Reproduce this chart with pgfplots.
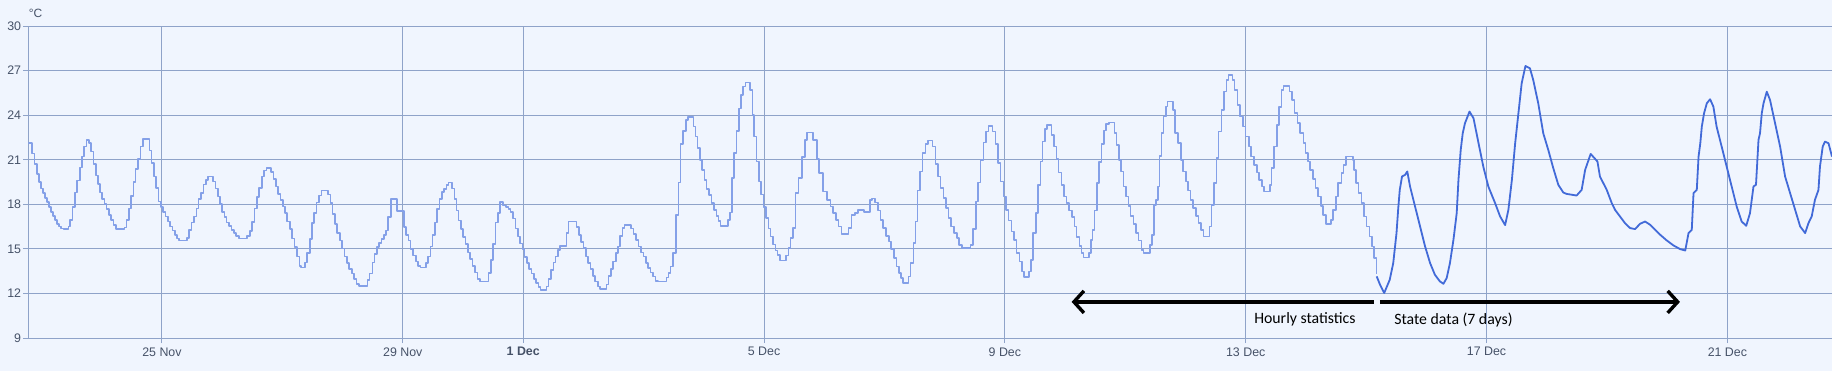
\documentclass[border=0pt]{standalone}
\usepackage{fontspec}
\setmainfont{Liberation Sans}
\newfontfamily\calibri{Carlito}
\usepackage{pgfplots}
\pgfplotsset{compat=1.18}
\usetikzlibrary{arrows.meta}
\definecolor{bg}{RGB}{240,245,254}
\definecolor{gridc}{RGB}{143,163,201}
\definecolor{labc}{RGB}{70,82,104}
\definecolor{hourc}{RGB}{132,160,232}
\definecolor{statec}{RGB}{66,106,216}
\begin{document}
\begin{tikzpicture}
\useasboundingbox (-14.25pt,-16.5pt) rectangle (901.75pt,169pt);
\fill[bg] (-14.25pt,-16.5pt) rectangle (901.75pt,169pt);
\begin{axis}[
  name=ax,
  scale only axis, width=901.75pt, height=156pt,
  xmin=-197.2, xmax=521.7, ymin=9, ymax=30,
  axis x line*=bottom, axis y line*=left,
  xtick={-144,-48,0,96,192,288,384,480},
  xticklabels={25 Nov,29 Nov,\textbf{1 Dec},5 Dec,9 Dec,13 Dec,17 Dec,21 Dec},
  ytick={9,12,15,18,21,24,27,30},
  grid=major, major grid style={gridc, line width=0.5pt},
  axis line style={gridc, line width=0.5pt, -},
  tick style={gridc, line width=0.5pt},
  tick align=outside, major tick length=2.5pt,
  /pgf/number format/assume math mode=true,
  tick label style={font=\fontsize{6.2}{7}\selectfont, text=labc},
  yticklabel style={inner sep=1pt},
  xticklabel style={inner sep=1pt, yshift=-1pt},
  clip=true,
]
\addplot[const plot, hourc, line width=0.8pt, line join=round, mark=none] table {
-197.2 22.11
-195.7 21.42
-194.8 20.70
-193.9 20.05
-193.0 19.49
-192.2 19.06
-191.4 18.75
-190.6 18.44
-189.8 18.14
-189.0 17.81
-188.2 17.49
-187.4 17.23
-186.6 16.96
-185.8 16.69
-185.0 16.51
-184.2 16.37
-183.3 16.33
-181.3 16.51
-180.7 16.96
-179.7 17.81
-178.6 18.79
-177.8 19.60
-176.7 20.48
-175.9 21.21
-175.0 21.89
-174.1 22.34
-173.0 22.11
-172.2 21.55
-171.3 20.72
-170.4 19.94
-169.4 19.35
-168.6 18.79
-167.8 18.37
-166.9 18.01
-166.1 17.67
-165.2 17.29
-164.3 16.96
-163.3 16.62
-162.4 16.33
-159.0 16.45
-158.1 16.96
-157.2 17.72
-156.3 18.57
-155.4 19.51
-154.5 20.36
-153.5 21.04
-152.6 21.89
-151.6 22.38
-149.0 21.62
-148.1 20.77
-147.2 19.87
-146.3 19.11
-145.4 18.19
-144.4 17.81
-143.5 17.47
-142.6 17.18
-141.7 16.84
-140.8 16.51
-139.8 16.24
-138.9 15.93
-138.0 15.70
-137.1 15.57
-134.0 15.72
-133.2 16.28
-132.3 16.78
-131.3 17.18
-130.3 17.72
-129.4 18.35
-128.5 18.75
-127.4 19.33
-126.5 19.65
-125.6 19.87
-123.6 19.53
-122.7 19.06
-121.7 18.53
-120.9 18.03
-120.0 17.49
-119.1 17.14
-118.2 16.78
-117.3 16.53
-116.3 16.28
-115.4 16.06
-114.4 15.88
-113.4 15.70
-110.0 15.88
-109.0 16.22
-108.2 16.82
-107.1 17.72
-106.2 18.48
-105.3 19.09
-104.2 19.87
-103.3 20.27
-102.3 20.43
-100.6 20.18
-99.6 19.69
-98.6 19.20
-97.7 18.68
-96.7 18.30
-95.8 17.85
-94.9 17.40
-94.1 16.84
-93.0 16.33
-92.1 15.70
-91.2 15.12
-90.1 14.49
-89.2 13.86
-88.6 13.75
-86.9 14.09
-86.1 14.72
-85.1 15.66
-84.3 16.73
-83.3 17.40
-82.4 18.12
-81.5 18.59
-80.4 18.93
-77.7 18.66
-76.8 18.08
-76.0 17.34
-75.1 16.69
-74.2 16.06
-73.1 15.57
-72.2 15.03
-71.3 14.49
-70.3 14.04
-69.4 13.64
-68.3 13.33
-67.4 12.97
-66.4 12.65
-65.5 12.52
-62.0 12.92
-61.2 13.33
-60.1 14.09
-59.3 14.67
-58.4 15.12
-57.5 15.39
-56.5 15.66
-55.6 15.95
-54.6 16.24
-54.0 17.14
-52.7 18.37
-50.2 17.55
-47.6 16.49
-46.8 15.93
-45.8 15.55
-44.9 14.98
-43.9 14.54
-42.8 14.16
-41.9 13.86
-40.9 13.75
-38.8 14.04
-37.9 14.49
-36.9 15.16
-36.1 15.95
-35.2 16.78
-34.3 17.70
-33.4 18.37
-32.4 18.82
-31.5 19.04
-30.6 19.31
-29.8 19.47
-28.3 19.06
-27.4 18.35
-26.6 17.58
-25.8 16.91
-24.9 16.33
-23.9 15.79
-23.0 15.32
-22.1 14.76
-21.1 14.31
-20.2 13.86
-19.3 13.42
-18.3 12.97
-17.3 12.79
-13.8 13.37
-12.9 14.27
-12.0 15.32
-11.0 16.78
-10.1 17.40
-9.3 18.14
-8.0 17.92
-6.9 17.83
-5.8 17.70
-5.0 17.49
-4.0 17.05
-3.1 16.37
-2.1 15.84
-1.3 15.35
-0.3 14.98
0.5 14.45
1.5 14.04
2.4 13.64
3.3 13.33
4.3 12.97
5.2 12.70
6.1 12.43
6.9 12.25
9.3 12.47
10.1 12.97
11.0 13.59
12.0 14.09
12.9 14.49
13.8 14.94
14.6 15.21
17.3 16.06
18.1 16.84
21.3 16.46
22.3 15.93
23.1 15.46
24.1 15.05
25.0 14.49
25.9 14.04
26.8 13.64
27.8 13.19
28.7 12.81
29.8 12.47
30.6 12.29
33.2 12.59
34.0 13.19
34.9 13.64
35.9 14.16
36.9 14.72
37.7 15.16
38.5 15.88
39.6 16.42
40.4 16.60
42.9 16.37
43.9 16.02
44.9 15.61
46.0 15.16
47.0 14.76
48.0 14.49
48.9 14.04
49.8 13.73
50.8 13.42
51.8 13.15
52.8 12.83
53.7 12.79
57.1 13.08
57.9 13.37
58.7 13.82
59.8 14.72
60.9 17.29
61.9 19.47
62.7 22.04
63.8 22.94
64.8 23.68
65.8 23.86
67.8 23.23
68.6 22.56
69.5 21.77
70.4 20.99
71.2 20.32
72.2 19.65
73.1 19.04
74.1 18.61
75.1 18.08
76.0 17.63
77.1 17.23
77.9 16.89
78.7 16.55
81.6 16.96
82.4 17.45
83.2 19.76
84.1 21.44
85.0 22.94
86.1 24.44
86.9 25.36
87.7 25.92
88.6 26.19
90.3 25.70
91.4 24.02
92.1 22.56
93.0 20.88
93.9 19.53
94.9 18.66
95.8 17.83
96.7 17.07
97.7 16.37
98.6 15.84
99.5 15.30
100.5 14.89
101.4 14.58
102.3 14.22
104.8 14.54
105.7 15.05
106.5 15.72
107.5 16.40
108.6 18.75
109.7 19.76
111.1 21.20
112.3 22.33
113.1 22.82
115.6 22.34
117.0 21.04
118.0 20.09
119.6 18.86
121.2 18.30
122.5 17.85
123.6 17.40
124.7 16.96
125.7 16.51
126.8 16.00
129.6 16.40
130.9 17.29
132.2 17.40
133.5 17.63
135.8 17.47
138.2 18.30
139.0 18.39
140.3 18.12
141.4 17.58
142.4 16.96
143.5 16.40
144.5 15.88
145.7 15.50
146.7 14.98
147.8 14.38
148.8 13.82
149.9 13.37
150.7 13.03
151.5 12.70
153.6 13.15
154.4 14.04
155.5 15.39
156.3 16.84
157.1 18.93
158.2 20.21
159.2 21.44
160.3 22.07
161.3 22.29
163.2 21.89
164.3 20.72
165.3 19.87
166.4 19.11
167.5 18.44
168.5 17.77
169.6 17.09
170.6 16.51
171.7 16.06
172.8 15.72
173.8 15.28
174.9 15.05
178.3 15.28
179.4 16.33
180.5 18.19
181.3 19.47
182.3 20.99
183.4 22.16
184.5 22.90
185.5 23.28
187.1 22.90
188.2 22.07
189.3 20.77
190.3 19.53
191.4 18.53
192.5 17.63
193.5 16.91
194.6 16.17
195.7 15.61
196.7 14.72
197.8 14.16
198.8 13.48
199.6 13.10
201.7 13.48
202.5 14.27
203.3 16.06
204.4 17.40
205.2 19.31
206.2 20.88
207.0 22.22
208.1 23.05
208.9 23.34
210.5 22.67
211.6 21.89
212.6 21.04
213.4 20.14
214.5 19.31
215.5 18.53
216.6 18.08
217.6 17.58
218.7 17.14
219.8 16.51
220.6 15.79
221.7 15.21
222.5 14.72
223.3 14.42
225.6 14.72
226.4 15.61
226.9 16.28
227.7 17.58
228.6 19.42
229.4 20.83
230.5 22.07
231.5 22.96
232.3 23.41
233.4 23.50
235.7 22.78
236.5 21.98
237.6 20.99
238.4 20.21
239.2 19.20
240.3 18.53
241.3 17.90
242.1 17.23
243.2 16.69
244.3 16.06
245.3 15.57
246.4 14.94
247.2 14.72
249.9 15.28
250.7 15.95
251.5 17.97
252.3 18.30
253.1 19.20
253.6 21.26
254.4 22.78
255.2 23.90
256.1 24.58
256.8 24.91
258.9 24.35
259.9 22.78
261.0 22.11
262.1 20.99
263.1 20.21
264.2 19.53
265.0 18.93
266.0 18.30
267.1 17.74
268.2 17.23
269.2 16.73
270.2 16.28
271.1 15.84
273.5 16.51
274.3 17.97
275.4 19.42
276.4 21.10
277.2 22.90
278.3 24.35
279.3 25.58
280.4 26.37
281.2 26.71
282.8 26.37
283.6 25.70
284.7 24.69
285.7 23.90
286.8 23.23
287.9 22.56
289.2 21.89
290.2 21.21
291.3 20.65
292.4 20.14
293.4 19.65
294.5 19.20
295.3 18.86
297.7 19.31
298.2 20.43
299.3 21.89
300.4 23.34
301.2 24.53
302.2 25.70
303.0 25.97
305.4 25.58
306.4 25.02
307.5 24.13
308.6 23.46
309.7 22.78
311.0 22.11
311.8 21.44
312.8 20.88
313.7 20.32
314.7 19.69
315.8 19.09
316.8 18.53
317.9 17.90
318.9 17.29
320.0 16.69
322.1 16.96
322.9 17.63
323.9 18.53
324.8 19.42
326.1 20.09
326.9 20.65
328.0 21.21
330.7 20.99
331.2 20.32
332.0 19.42
333.0 18.75
334.1 18.08
335.2 17.18
336.2 16.51
337.3 15.84
338.3 15.16
339.1 14.38
340.2 13.30
};
\addplot[statec, line width=0.9pt, line join=round, mark=none] table {
340.2 13.15
341.5 12.60
343.2 12.03
345.4 12.92
346.8 14.04
348.1 16.06
348.8 17.74
349.4 18.97
350.3 19.87
351.5 19.98
352.4 20.21
353.5 19.20
355.5 17.85
357.5 16.51
359.5 15.16
361.5 14.04
363.4 13.26
365.4 12.81
366.8 12.65
368.1 13.03
369.4 14.04
370.8 15.61
372.1 17.40
372.8 19.65
373.7 21.66
374.5 22.78
375.4 23.46
377.2 24.24
378.8 23.79
380.8 22.11
382.7 20.54
384.7 19.20
387.4 18.08
389.4 17.18
391.4 16.60
392.7 17.63
394.1 19.65
395.4 22.11
396.7 24.13
398.0 26.15
399.5 27.31
401.3 27.15
402.6 26.37
404.6 24.80
406.6 22.78
408.6 21.66
410.6 20.43
412.6 19.31
414.6 18.79
415.9 18.70
419.9 18.59
421.9 18.97
423.3 20.32
425.5 21.39
428.2 20.88
429.2 19.87
431.9 18.97
433.9 18.08
435.2 17.63
437.2 17.18
439.2 16.73
441.2 16.40
443.2 16.33
445.2 16.69
447.2 16.84
449.2 16.62
451.2 16.28
453.2 15.95
455.8 15.57
458.5 15.23
461.2 14.98
463.2 14.89
464.5 16.06
465.8 16.28
466.5 18.75
467.8 18.97
468.5 21.21
469.2 22.11
469.8 23.23
470.7 24.13
471.8 24.80
473.1 25.07
474.4 24.58
475.7 23.23
477.7 21.89
479.7 20.54
481.7 19.20
483.7 17.85
485.7 16.84
487.5 16.55
489.0 17.40
490.4 19.20
491.4 19.31
492.4 22.34
493.0 22.78
493.7 24.13
494.4 24.80
495.7 25.58
497.0 25.02
499.0 23.46
501.0 21.89
503.0 19.87
505.0 18.75
507.0 17.63
509.0 16.51
511.0 16.06
512.3 16.73
513.6 17.18
514.9 18.30
516.3 18.97
516.9 20.54
518.0 21.89
518.9 22.22
520.3 22.11
521.7 21.21
};
\draw[black, line width=1.7pt, {Straight Barb[length=5pt,width=11pt]}-] (axis cs:218.6,11.43) -- (axis cs:339.1,11.43);
\draw[black, line width=1.7pt, -{Straight Barb[length=5pt,width=11pt]}] (axis cs:341.5,11.43) -- (axis cs:461.1,11.43);
\node[font=\calibri\fontsize{7.9}{9}\selectfont, inner sep=0pt] at (axis cs:311.6,10.28) {Hourly statistics};
\node[font=\calibri\fontsize{7.9}{9}\selectfont, inner sep=0pt] at (axis cs:370.8,10.2) {State data (7 days)};
\end{axis}
\node[anchor=west, font=\fontsize{6}{7}\selectfont, text=labc, inner sep=0pt] at ([yshift=6.5pt]ax.north west) {°C};
\end{tikzpicture}
\end{document}
